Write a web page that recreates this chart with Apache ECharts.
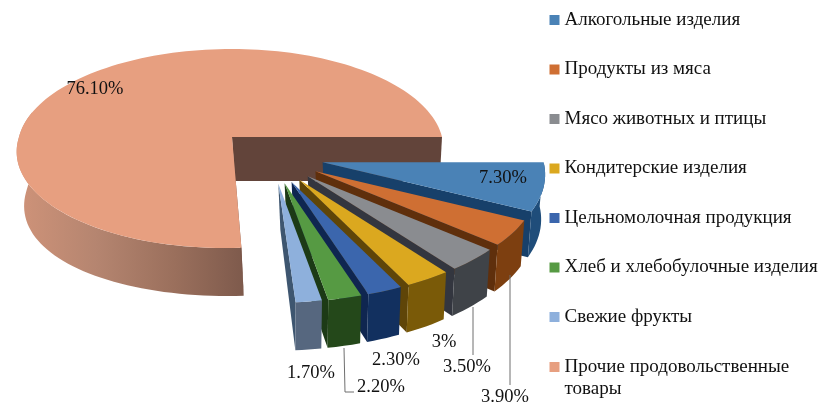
<!DOCTYPE html>
<html><head><meta charset="utf-8">
<style>html,body{margin:0;padding:0;background:#fff}#c{width:820px;height:404px}</style>
<script src="https://cdn.jsdelivr.net/npm/echarts@6/dist/echarts.min.js"></script>
</head><body><div id="c"></div>
<script>
const categories = ['Алкогольные изделия','Продукты из мяса','Мясо животных и птицы','Кондитерские изделия','Цельномолочная продукция','Хлеб и хлебобулочные изделия','Свежие фрукты','Прочие продовольственные товары'];
const values = [7.3,3.9,3.5,3,2.3,2.2,1.7,76.1];
const valueLabels = ['7.30%','3.90%','3.50%','3%','2.30%','2.20%','1.70%','76.10%'];
const topColors = ['#4a82b6','#cf6f33','#8a8c90','#dba81f','#3b66ad','#569a43','#8eb0dc','#e79f80'];
const wallColors = ['#1f4d7a','#7d3f10','#3f4348','#7a5a08','#12305f','#24481a','#56677f','#a87a64'];
const endWallColors = ['#17406a','#5f2f0c','#33363f','#5f4508','#0f2650','#1c3a16','#3e5670','#7a5648'];
const labelAnchors = [[503,178],[505,397],[467,367],[444,342],[396,360],[381,387],[311,373],[95,89]];
const leaders = [null,[[510,275],[510,385]],[[473,307],[473,355]],null,null,[[344,348],[345,392],[354,392]],null,null];

const APEX = [232,137], K = 0.1156, RY = 98.2, RAD = Math.PI/180, STEP = 2;
const total = values.reduce((a,b)=>a+b,0);
const cum = [0]; values.forEach((v,i)=>cum.push(cum[i]+v));
const ang = i => cum[i]/total*360;

function topPt(t,big){
  const c=Math.cos(t*RAD), s=Math.sin(t*RAD), d=1-K*s;
  if(big){
    const rx=c>0?210:213;
    return [APEX[0]+rx*c/d-7*Math.max(s,0), APEX[1]+RY*s/d, c, s];
  }
  return [221*c/d, 1.07*RY*s/d, c, s];
}
function arc(a,b,f){const out=[];const n=Math.max(2,Math.ceil((b-a)/STEP));for(let j=0;j<=n;j++)out.push(f(a+(b-a)*j/n));return out;}
const poly=(pts,fill,z)=>({type:'polygon',silent:true,shape:{points:pts},style:{fill,stroke:null},z2:z||0});

function bigItem(i){
  const a=ang(i), b=360;
  const T=t=>{const p=topPt(t,true);return [p[0],p[1]];};
  const B=t=>{const p=topPt(t,true);const lc=Math.max(0,-p[2]);return [APEX[0]+(p[0]-APEX[0])*0.977+2.5,p[1]+44+4*p[3]+10*lc*lc];};
  const apexB=[APEX[0]+3,APEX[1]+44];
  const grad=new echarts.graphic.LinearGradient(0,0,1,0,[
    {offset:0,color:'#cf9379'},{offset:.35,color:'#b58570'},{offset:.7,color:'#9a6f5c'},{offset:1,color:'#7e5a4c'}]);
  const wallT=arc(a,195,T), wallB=arc(a,195,B);
  return [
    poly(wallT.concat(wallB.reverse()),grad,1),
    poly([APEX,T(0),B(0),apexB],'#62443a',2),
    poly([APEX,T(a),B(a),apexB],endWallColors[i],2),
    poly([APEX].concat(arc(a,b,T)),topColors[i],3)
  ];
}
function sliceItem(i){
  const a=ang(i), b=ang(i+1), m=(a+b)/2*RAD;
  const A=[APEX[0]+40+52*Math.cos(m), APEX[1]+19+28*Math.sin(m)];
  const T=t=>{const p=topPt(t,false);return [A[0]+p[0],A[1]+p[1]];};
  const B=t=>{const p=topPt(t,false);return [A[0]+p[0]-4*p[2],A[1]+p[1]+44+4*p[3]];};
  const apexB=[A[0]+2,A[1]+46];
  const wt=arc(a,b,T), wb=arc(a,b,B);
  return [
    poly([A,T(b),B(b),apexB],endWallColors[i],1),
    poly(wt.concat(wb.slice().reverse()),wallColors[i],2),
    poly([A].concat(wt),topColors[i],3)
  ];
}
function render(i){
  const kids = i===values.length-1 ? bigItem(i) : sliceItem(i);
  if(leaders[i]) kids.push({type:'polyline',silent:true,z2:4,shape:{points:leaders[i]},style:{fill:null,stroke:'#6f6f6f',lineWidth:1}});
  kids.push({type:'text',silent:true,z2:5,x:labelAnchors[i][0],y:labelAnchors[i][1],
    style:{text:valueLabels[i],fill:'#111',font:'18.5px "Liberation Serif"',align:'center',verticalAlign:'middle'}});
  return {type:'group',children:kids};
}
// painted back to front: the large slice first, then the small ones clockwise
const paintOrder=[7,0,1,2,3,4,5,6];
const series=paintOrder.map((i,k)=>({
  type:'custom',name:categories[i],coordinateSystem:'none',z:2+k,silent:true,
  itemStyle:{color:topColors[i]},data:[[values[i]]],renderItem:()=>render(i),animation:false
}));
const legendBase={orient:'vertical',left:549.5,padding:0,itemWidth:10,itemHeight:10,itemGap:27.5,icon:'rect',selectedMode:false,
  textStyle:{fontFamily:'Liberation Serif',fontSize:19,color:'#111',lineHeight:22}};
const chart=echarts.init(document.getElementById('c'),null,{renderer:'canvas'});
chart.setOption({
  animation:false,backgroundColor:'#fff',
  legend:[
    Object.assign({},legendBase,{top:9,data:categories.slice(0,7)}),
    Object.assign({},legendBase,{top:334,data:categories.slice(7),
      formatter:()=>'\nПрочие продовольственные\nтовары'})
  ],
  series
});
</script></body></html>
